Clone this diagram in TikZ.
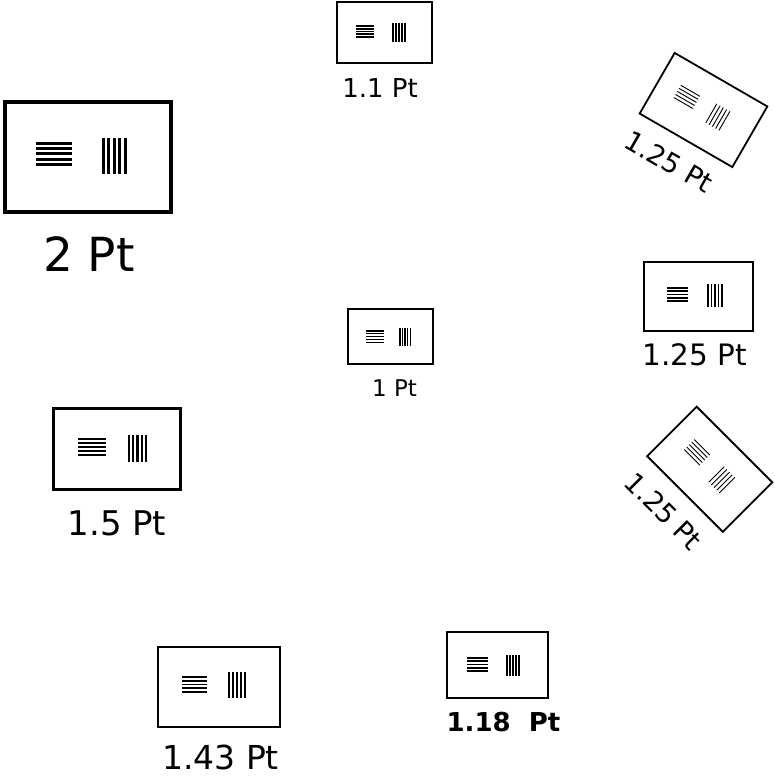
\documentclass[tikz,border=0pt]{standalone}
\usepackage{fontspec}
\setmainfont{DejaVu Sans}
\newcommand\hstripes[5]{%
  \foreach \i in {0,...,4}{\draw[line width=#5pt] ({#1-#3/2},{#2-#4/2+#5/2+\i*(#4-#5)/4}) -- ++(#3,0);}}
\newcommand\vstripes[5]{%
  \foreach \i in {0,...,4}{\draw[line width=#5pt] ({#1-#3/2+#5/2+\i*(#3-#5)/4},{#2-#4/2}) -- ++(0,#4);}}
\tikzset{
  samplebox/.style={draw, rectangle, inner sep=0pt, outer sep=0pt},
  samplelabel/.style={anchor=base, inner sep=0pt},
}
\begin{document}
\begin{tikzpicture}[x=1pt,y=-1pt]
\useasboundingbox (0,0) rectangle (774,784);
% A: 1.1 Pt
\node[samplebox, line width=2pt, minimum width=95.5pt, minimum height=61pt] (boxA) at (384.25,32.5) {};
\hstripes{365}{31.5}{18}{12.4}{1.6}
\vstripes{399}{32.2}{14}{19}{1.6}
\node[samplelabel, font=\fontsize{26}{30}\selectfont] (labA) at (380,97) {1.1 Pt};
% B: 2 Pt
\node[samplebox, line width=4pt, minimum width=166.3pt, minimum height=110pt] (boxB) at (87.85,156.7) {};
\hstripes{54}{153.8}{36}{24.3}{3}
\vstripes{114.3}{155.8}{25.3}{36.3}{3}
\node[samplelabel, font=\fontsize{47}{52}\selectfont] (labB) at (89,271.7) {2 Pt};
% C: 1 Pt
\node[samplebox, line width=1.6pt, minimum width=85pt, minimum height=55pt] (boxC) at (390.5,336.5) {};
\hstripes{375}{336.5}{18}{13}{1.5}
\vstripes{405}{337}{12}{18}{1.5}
\node[samplelabel, font=\fontsize{23}{27}\selectfont] (labC) at (394.5,396) {1 Pt};
% D: 1.25 Pt
\node[samplebox, line width=2pt, minimum width=109pt, minimum height=69pt] (boxD) at (698.5,296.5) {};
\hstripes{677.5}{294.5}{21}{15}{1.7}
\vstripes{715}{295.5}{16}{23}{1.7}
\node[samplelabel, font=\fontsize{29.5}{34}\selectfont] (labD) at (695,365) {1.25 Pt};
% E: 1.25 Pt rotated 30
\begin{scope}[shift={(703.5,110)}, rotate=-30, transform shape]
\node[samplebox, line width=1.8pt, minimum width=107pt, minimum height=70pt] (boxE) at (0,0) {};
\hstripes{-21}{-3}{22}{15}{0.9}
\vstripes{16}{-1}{16}{22}{0.9}
\node[samplelabel, font=\fontsize{27}{31}\selectfont] (labE) at (-4,72) {1.25 Pt};
\end{scope}
% F: 1.25 Pt rotated 45
\begin{scope}[shift={(709.75,469.25)}, rotate=-45, transform shape]
\node[samplebox, line width=1.8pt, minimum width=107pt, minimum height=70pt] (boxF) at (0,0) {};
\hstripes{-21}{-3}{22}{15}{0.9}
\vstripes{16}{-1}{16}{22}{0.9}
\node[samplelabel, font=\fontsize{27}{31}\selectfont] (labF) at (-3,72) {1.25 Pt};
\end{scope}
% G: 1.5 Pt
\node[samplebox, line width=3pt, minimum width=126.3pt, minimum height=81pt] (boxG) at (116.85,448.5) {};
\hstripes{92}{447}{28}{18}{2.2}
\vstripes{137.5}{448.5}{19}{27}{2.2}
\node[samplelabel, font=\fontsize{34}{39}\selectfont] (labG) at (117,535) {1.5 Pt};
% H: 1.43 Pt
\node[samplebox, line width=2.2pt, minimum width=122pt, minimum height=80pt] (boxH) at (219,687) {};
\hstripes{194.5}{684.5}{25}{17}{1.8}
\vstripes{237}{685}{18}{26}{1.8}
\node[samplelabel, font=\fontsize{33}{38}\selectfont] (labH) at (220.5,769) {1.43 Pt};
% I: 1.18 Pt
\node[samplebox, line width=2pt, minimum width=101pt, minimum height=66pt] (boxI) at (497.5,665) {};
\hstripes{477.5}{664.5}{21}{15}{1.7}
\vstripes{513}{665.5}{14}{21}{1.7}
\node[samplelabel, font=\bfseries\fontsize{26}{30}\selectfont] (labI) at (503.5,731) {1.18~~Pt};
\end{tikzpicture}
\end{document}
